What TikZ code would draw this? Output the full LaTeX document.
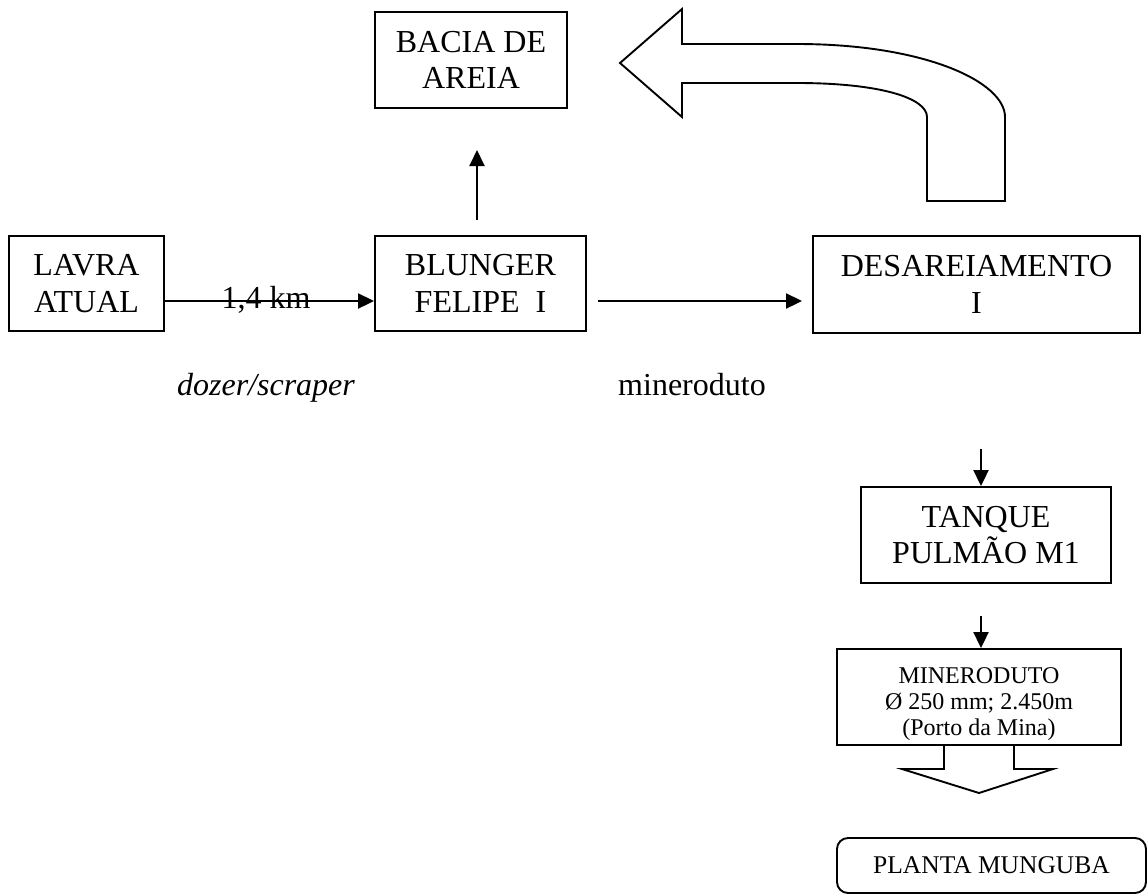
\documentclass[tikz,border=0pt]{standalone}
\usepackage{fontspec}
\setmainfont{Liberation Serif}
\usetikzlibrary{arrows.meta,calc}
\newcommand\bigf{\fontsize{32}{36.5}\selectfont}
\newcommand\midf{\fontsize{24}{26}\selectfont}
\newcommand\plf{\fontsize{25.5}{28}\selectfont}
\begin{document}
\begin{tikzpicture}[x=1pt,y=-1pt,
  box/.style={draw,line width=1.9pt,align=center,inner sep=0pt,font=\bigf},
  arr/.style={line width=2pt,-{Triangle[length=16pt,width=15pt]}},
  lbl/.style={inner sep=0pt,anchor=base,font=\bigf},
  shapeline/.style={line width=1.9pt,line join=miter}]
\useasboundingbox (0,0) rectangle (1148,895);
% boxes
\node[box,minimum width=155pt,minimum height=95pt] (lavra) at (86.5,283.5) {LAVRA\\ATUAL};
\node[box,minimum width=211pt,minimum height=95pt] (blunger) at (480.5,283.5) {BLUNGER\\FELIPE\ \ I};
\node[box,minimum width=327pt,minimum height=97pt] (desar) at (976.5,284.5) {DESAREIAMENTO\\I};
\node[box,minimum width=192pt,minimum height=96pt] (bacia) at (471,60) {BACIA DE\\AREIA};
\node[box,minimum width=250pt,minimum height=96pt] (tanque) at (986,535) {TANQUE\\PULMÃO M1};
\node[box,minimum width=284pt,minimum height=96pt,font=\midf] (minero) at (979,697) {\rule{0pt}{30pt}MINERODUTO\\Ø 250 mm; 2.450m\\(Porto da Mina)};
\node[box,rounded corners=11pt,minimum width=309pt,minimum height=55pt,font=\plf] (planta) at (991.5,865.5) {PLANTA MUNGUBA};
% labels
\node[lbl] (km) at (266,308) {1,4 km};
\node[lbl,font=\bigf\itshape] (dozer) at (266,395) {dozer/scraper};
\node[lbl] (mineroduto) at (692,395) {mineroduto};
% connectors
\draw[arr] ($(lavra.east)+(0,17.5)$) -- ($(blunger.west)+(0,17.5)$);
\draw[arr] ($(blunger.east)+(11,17.5)$) -- ($(desar.west)+(-10,16.5)$);
\coordinate (upS) at (477,220);
\coordinate (upE) at (477,150);
\draw[arr] (upS) -- (upE);
\coordinate (dtS) at (981,449);
\draw[arr] (dtS) -- (dtS |- tanque.north);
\coordinate (tmS) at (981,616);
\draw[arr] (tmS) -- (tmS |- minero.north);
% big curved arrow
\draw[shapeline] (620,63) -- (682,9) -- (682,44) -- (797,44)
  .. controls (925,44) and (1005,82) .. (1005,117)
  -- (1005,201) -- (927,201) -- (927,117)
  .. controls (927,98) and (880,83) .. (797,83)
  -- (682,83) -- (682,117) -- cycle;
% down block arrow under MINERODUTO
\draw[shapeline] (944,745) -- (944,769) -- (902,769) -- (979,793) -- (1053,769) -- (1014,769) -- (1014,745);
\end{tikzpicture}
\end{document}
